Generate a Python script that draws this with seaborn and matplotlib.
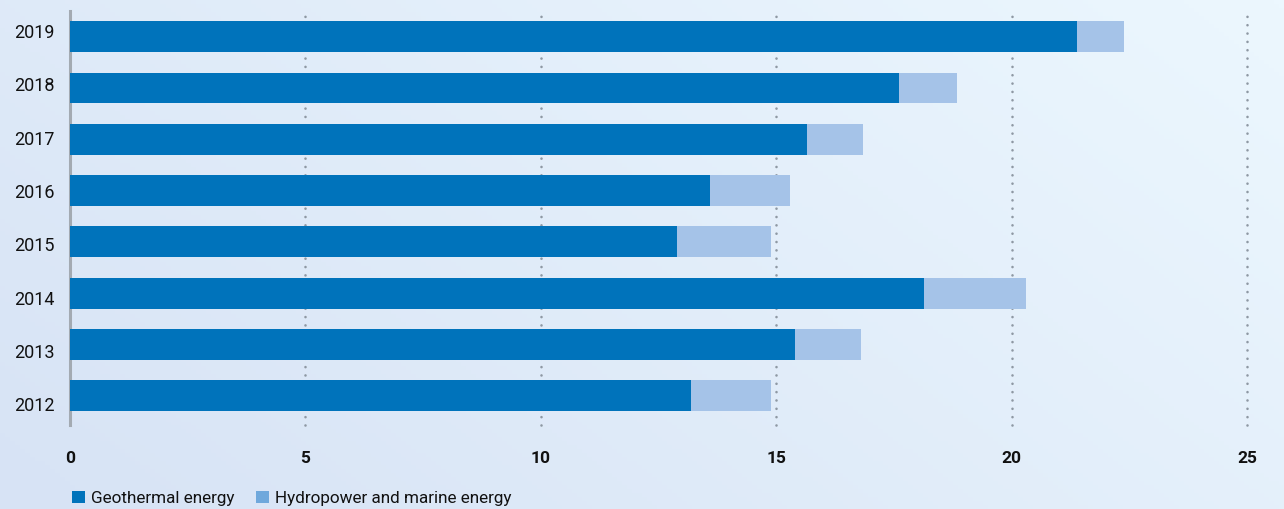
import numpy as np
import pandas as pd
import matplotlib
matplotlib.use("Agg")
import matplotlib.pyplot as plt
from matplotlib.patches import Patch
from matplotlib.colors import LinearSegmentedColormap
import seaborn as sns

# Data
years = ["2019", "2018", "2017", "2016", "2015", "2014", "2013", "2012"]
geothermal = [21.4, 17.6, 15.65, 13.6, 12.9, 18.15, 15.4, 13.2]
hydro_marine = [1.0, 1.25, 1.2, 1.7, 2.0, 2.15, 1.4, 1.7]
x_ticks = [0, 5, 10, 15, 20, 25]
x_tick_labels = ["0", "5", "10", "15", "20", "25"]
series_names = ["Geothermal energy", "Hydropower and marine energy"]

sns.set_theme(style="white")
plt.rcParams["font.family"] = ["Roboto", "DejaVu Sans"]

GEO = "#0073bb"
HYDRO = "#a5c3e8"
HYDRO_KEY = "#6fa8dc"

df = pd.DataFrame({
    "year": years,
    "geo": geothermal,
    "total": [g + h for g, h in zip(geothermal, hydro_marine)],
})

fig = plt.figure(figsize=(12.84, 5.09), dpi=100)

# soft diagonal gradient backdrop
bg = fig.add_axes([0, 0, 1, 1], zorder=-10)
cmap = LinearSegmentedColormap.from_list("bg", ["#d7e3f5", "#ecf7fe"])
gx, gy = np.meshgrid(np.linspace(0, 1, 256), np.linspace(0, 1, 128))
grad = 0.65 * gx + 0.35 * (1 - gy)
bg.imshow(grad, cmap=cmap, aspect="auto", extent=[0, 1, 0, 1], origin="upper")
bg.axis("off")

ax = fig.add_axes([70 / 1284, 1 - 425 / 509, 1191 / 1284, 414 / 509])
ax.patch.set_alpha(0)

sns.barplot(data=df, x="total", y="year", order=years, color=HYDRO,
            width=0.6, saturation=1, linewidth=0, ax=ax, zorder=2)
sns.barplot(data=df, x="geo", y="year", order=years, color=GEO,
            width=0.6, saturation=1, linewidth=0, ax=ax, zorder=3)

ax.set_xlim(0, 25.3)
ax.set_ylim(7.57, -0.5)
ax.set_xlabel("")
ax.set_ylabel("")

# dotted vertical guides
for xv in x_ticks[1:]:
    ax.axvline(xv, color="#8e98a3", lw=1.9, linestyle=(0, (0.01, 3.15)),
               dash_capstyle="round", zorder=1, clip_on=False)

for s in ["top", "right", "bottom"]:
    ax.spines[s].set_visible(False)
ax.spines["left"].set_color("#a3aab2")
ax.spines["left"].set_linewidth(2.2)
ax.spines["left"].set_zorder(1.5)

ax.set_xticks(x_ticks)
ax.set_xticklabels(x_tick_labels, fontsize=12.5, fontweight="bold", color="#111111")
ax.tick_params(axis="x", length=0, pad=19)

# year labels sit on a slightly wider pitch than the bars
ax.set_yticks([-0.107 + 1.039 * i for i in range(len(years))])
ax.set_yticklabels(years, fontsize=13, color="#111111")
ax.tick_params(axis="y", length=0, pad=11)

handles = [Patch(facecolor=GEO, edgecolor="none"),
           Patch(facecolor=HYDRO_KEY, edgecolor="none")]
fig.legend(handles, series_names, loc="lower left",
           bbox_to_anchor=(57 / 1284, -0.024), ncol=2, frameon=False,
           fontsize=12.3, handlelength=0.72, handleheight=0.72,
           handletextpad=0.35, columnspacing=1.3, labelcolor="#111111")

fig.savefig("out.png", dpi=100)
